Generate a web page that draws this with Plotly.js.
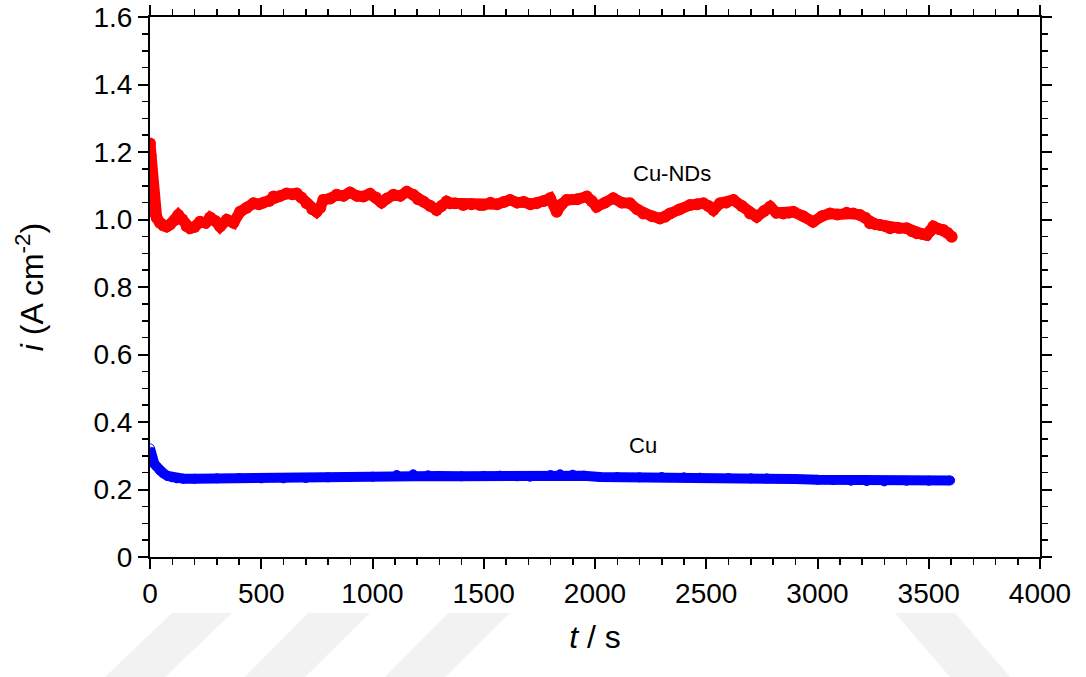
<!DOCTYPE html>
<html>
<head>
<meta charset="utf-8">
<script src="https://cdn.plot.ly/plotly-3.0.1.min.js"></script>
<style>
  html, body { margin: 0; padding: 0; background: #ffffff; }
  #chart { width: 1086px; height: 677px; }
</style>
</head>
<body>
<div id="chart"></div>
<script>
// Cu-NDs series (time in s, current density in A cm^-2)
const tCuNDs = [0,3,6,10,15,20,30,45,60,75,90,110,127,145,165,180,200,225,250,270,295,315,345,375,405,435,465,490,510,535,555,585,614,640,659,680,704,730,749,765,779,810,839,870,899,930,959,989,1015,1041,1065,1094,1125,1154,1183,1205,1228,1260,1288,1310,1333,1348,1370,1408,1445,1483,1498,1530,1560,1590,1618,1650,1680,1710,1738,1770,1798,1828,1850,1873,1920,1963,1985,2007,2045,2082,2120,2157,2190,2217,2255,2292,2315,2337,2380,2427,2460,2487,2510,2532,2562,2590,2622,2660,2697,2727,2760,2787,2815,2846,2870,2891,2935,2980,3020,3056,3090,3131,3160,3191,3215,3236,3260,3281,3305,3326,3365,3401,3425,3446,3470,3491,3505,3521,3545,3566,3585,3603];
const iCuNDs = [1.225,1.19,1.15,1.10,1.05,1.02,1.005,0.99,0.982,0.979,0.985,0.998,1.013,1.0,0.98,0.974,0.978,0.993,0.99,1.006,0.995,0.979,0.999,0.99,1.023,1.035,1.048,1.045,1.05,1.055,1.068,1.07,1.077,1.075,1.077,1.065,1.048,1.03,1.023,1.035,1.058,1.062,1.073,1.07,1.08,1.07,1.068,1.076,1.065,1.05,1.062,1.073,1.07,1.082,1.073,1.06,1.053,1.04,1.028,1.04,1.053,1.048,1.048,1.043,1.045,1.043,1.043,1.05,1.045,1.052,1.058,1.05,1.052,1.045,1.048,1.055,1.063,1.023,1.045,1.058,1.06,1.068,1.055,1.038,1.05,1.063,1.05,1.048,1.03,1.018,1.01,1.003,1.008,1.018,1.03,1.043,1.045,1.048,1.04,1.028,1.048,1.05,1.058,1.04,1.018,1.008,1.025,1.038,1.02,1.018,1.02,1.023,1.01,0.993,1.01,1.018,1.015,1.02,1.018,1.013,1.005,0.989,0.986,0.984,0.98,0.974,0.975,0.974,0.965,0.959,0.957,0.954,0.965,0.979,0.972,0.969,0.96,0.949];

// Cu series
const tCu = [0,2,5,10,20,30,45,60,80,100,120,150,200,300,400,500,600,700,800,900,1000,1109,1183,1250,1300,1400,1500,1573,1650,1708,1800,1843,1900,1950,2022,2100,2200,2300,2400,2472,2600,2700,2772,2900,3000,3071,3150,3221,3300,3400,3500,3596];
const iCu = [0.322,0.312,0.3,0.29,0.275,0.268,0.256,0.248,0.24,0.236,0.233,0.232,0.232,0.233,0.234,0.233,0.233,0.234,0.236,0.237,0.238,0.243,0.245,0.242,0.24,0.239,0.24,0.241,0.239,0.238,0.243,0.245,0.244,0.241,0.237,0.237,0.236,0.237,0.236,0.235,0.234,0.233,0.233,0.231,0.229,0.228,0.226,0.225,0.224,0.226,0.226,0.227];

// Axis ticks
const yTickVals = [0,0.2,0.4,0.6,0.8,1.0,1.2,1.4,1.6];
const yTickText = ["0","0.2","0.4","0.6","0.8","1.0","1.2","1.4","1.6"];
const xTickVals = [0,500,1000,1500,2000,2500,3000,3500,4000];
const xTickText = ["0","500","1000","1500","2000","2500","3000","3500","4000"];

// Series labels
const labelNames = ["Cu-NDs","Cu"];
const labelT = [2346, 2216];
const labelI = [1.135, 0.329];

const FONT = "Liberation Sans, Arial, sans-serif";

const cuSymbols = tCu.map(t => (t <= 10 ? 'circle-open' : 'circle'));

const traces = [
  {
    x: tCuNDs, y: iCuNDs, type: 'scatter', mode: 'lines+markers',
    line: {color: '#ff0000', width: 11},
    marker: {color: '#ff0000', size: 12, symbol: 'circle'},
    name: 'Cu-NDs', showlegend: false, hoverinfo: 'skip'
  },
  {
    x: tCu, y: iCu, type: 'scatter', mode: 'lines+markers',
    line: {color: '#0000ff', width: 10},
    marker: {color: '#0000ff', size: 9, symbol: cuSymbols, line: {width: 1, color: '#0000ff'}},
    name: 'Cu', showlegend: false, hoverinfo: 'skip'
  }
];

function px2paperX(px) { return (px - 150) / 890; }
function px2paperY(py) { return (557 - py) / 540; }
function stripe(pts) {
  let d = '';
  pts.forEach((p, k) => { d += (k === 0 ? 'M' : 'L') + px2paperX(p[0]).toFixed(4) + ',' + px2paperY(p[1]).toFixed(4) + ' '; });
  return d + 'Z';
}
const stripeShapes = [
  [[105,677],[165,677],[232,613],[172,613]],
  [[245,677],[305,677],[370,613],[308,613]],
  [[385,677],[445,677],[510,613],[448,613]],
  [[895,613],[955,613],[1010,677],[950,677]]
].map(p => ({type: 'path', xref: 'paper', yref: 'paper', path: stripe(p), fillcolor: '#f2f2f2', line: {width: 0}, layer: 'below'}));

const layout = {
  width: 1086, height: 677,
  margin: {l: 150, r: 46, t: 17, b: 120},
  paper_bgcolor: '#ffffff', plot_bgcolor: '#ffffff',
  font: {family: FONT, color: '#000000', size: 28},
  showlegend: false,
  xaxis: {
    range: [0, 4000], tickmode: 'array', tickvals: xTickVals, ticktext: xTickText,
    ticks: 'outside', ticklen: 10, tickwidth: 2, tickcolor: '#000',
    showline: true, linecolor: '#000', linewidth: 2, mirror: 'allticks',
    showgrid: false, zeroline: false,
    tickfont: {family: FONT, size: 28, color: '#000'},
    minor: {dtick: 100, tick0: 0, ticks: 'outside', ticklen: 6, tickwidth: 1.5, tickcolor: '#000', showgrid: false},
    title: {text: '<i>t</i> / s', font: {family: FONT, size: 32, color: '#000'}, standoff: 18}
  },
  yaxis: {
    range: [0, 1.6], tickmode: 'array', tickvals: yTickVals, ticktext: yTickText,
    ticks: 'outside', ticklen: 10, tickwidth: 2, tickcolor: '#000',
    showline: true, linecolor: '#000', linewidth: 2, mirror: 'allticks',
    showgrid: false, zeroline: false,
    tickfont: {family: FONT, size: 28, color: '#000'},
    minor: {dtick: 0.05, tick0: 0, ticks: 'outside', ticklen: 6, tickwidth: 1.5, tickcolor: '#000', showgrid: false},
    title: {text: '<i>i</i> (A cm<sup>-2</sup>)', font: {family: FONT, size: 32, color: '#000'}, standoff: 40}
  },
  annotations: labelNames.map((n, k) => ({
    x: labelT[k], y: labelI[k], xref: 'x', yref: 'y', text: n, showarrow: false,
    font: {family: FONT, size: 22, color: '#000'}, xanchor: 'center', yanchor: 'middle'
  })),
  shapes: stripeShapes
};

Plotly.newPlot('chart', traces, layout, {displayModeBar: false, staticPlot: true});
</script>
</body>
</html>
